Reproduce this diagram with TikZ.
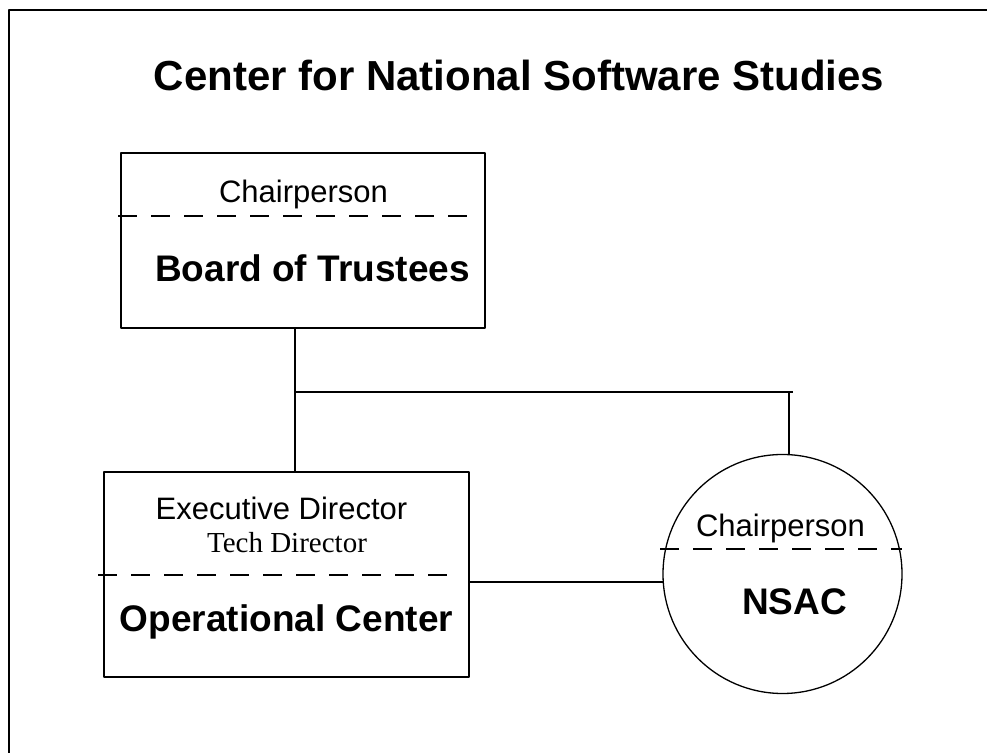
\documentclass[tikz,border=0pt]{standalone}
\usepackage{fontspec}
\setmainfont{Liberation Sans}
\newfontfamily\serifrm{Liberation Serif}
\begin{document}
\begin{tikzpicture}[>=latex,line join=bevel,
  unitbox/.style={draw,line width=1.8bp,inner sep=0pt},
  sepline/.style={line width=1.4bp,dash pattern=on 19bp off 14bp},
  link/.style={line width=1.8bp},
  lbl/.style={anchor=base,inner sep=0pt,font=\fontsize{31bp}{37bp}\selectfont},
  head/.style={anchor=base,inner sep=0pt,font=\bfseries\fontsize{37bp}{44bp}\selectfont}]
%%
\useasboundingbox (0bp,0bp) rectangle (987bp,753bp);
\draw [line width=2.2bp] (9bp,0bp) -- (9bp,743bp) -- (987bp,743bp);
\node (title) at (519bp,662bp) [anchor=base,inner sep=0pt,font=\bfseries\fontsize{42bp}{50bp}\selectfont] {Center for National Software Studies};
%
  \node (board) at (303bp,512.5bp) [unitbox,minimum width=364bp,minimum height=175bp] {};
  \node (ops) at (286.5bp,178.5bp) [unitbox,minimum width=365bp,minimum height=205bp] {};
  \node (nsac) at (782.5bp,179bp) [circle,draw,line width=1.3bp,inner sep=0pt,minimum size=239bp] {};
%
  \draw [sepline] (118bp,537bp) -- (475bp,537bp);
  \draw [sepline] (98bp,178bp) -- (458bp,178bp);
  \draw [sepline] (660bp,204bp) -- (902bp,204bp);
%
  \node (board_chair) at (303.5bp,550bp) [lbl] {Chairperson};
  \node (board_name) at (312.5bp,471bp) [head] {Board of Trustees};
  \node (ops_exec) at (281.5bp,233bp) [lbl] {Executive Director};
  \node (ops_tech) at (287bp,200bp) [anchor=base,inner sep=0pt,font=\serifrm\fontsize{29bp}{35bp}\selectfont] {Tech Director};
  \node (ops_name) at (286.5bp,121bp) [head] {Operational Center};
  \node (nsac_chair) at (780.5bp,216bp) [lbl] {Chairperson};
  \node (nsac_name) at (794.5bp,138bp) [head] {NSAC};
%
  \coordinate (jn) at (295bp,361bp);
  \coordinate (jc) at (nsac.87 |- jn);
  \coordinate (jr) at (793bp,361bp);
  \draw [link] (jn |- board.south) -- (jn) -- (jn |- ops.north);
  \draw [link] (jn) -- (jr);
  \draw [link] (jc) -- (nsac.87);
  \draw [link] (ops.east |- nsac.184) -- (nsac.184);
%
\end{tikzpicture}
\end{document}
